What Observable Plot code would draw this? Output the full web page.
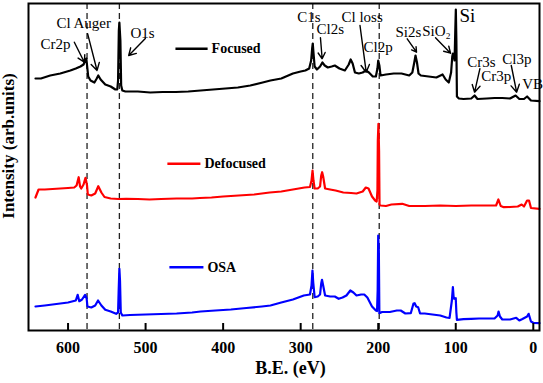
<!DOCTYPE html>
<html>
<head>
<meta charset="utf-8">
<script src="https://cdn.jsdelivr.net/npm/d3@7"></script>
<script src="https://cdn.jsdelivr.net/npm/@observablehq/plot@0.6"></script>
<style>
  html, body { margin: 0; padding: 0; background: #fff; }
  #chart svg, #chart svg text { font-family: "Liberation Serif", "DejaVu Serif", serif !important; }
</style>
</head>
<body>
<div id="chart"></div>
<script>
// ---- Data (binding energy in eV, intensity in arbitrary units, offset per spectrum) ----
const xTicks = [600, 500, 400, 300, 200, 100, 0];
const dashedBE = [575.5, 533.8, 284.4, 198.7];

const focused = [
  [642,252],[635,252],[623,255],[610,257],[597,260],[590,262],[584,264],[580,266],[577.5,271],[576.4,272],
  [574,254],[571,250],[566,248],[563,252],[561,255],[558,251],[552,246],[545,244],[539,241],[536.5,241],
  [535.5,250],[534.5,300],[533.8,308],[532.5,290],[531.5,245],[530,240],[526,239],[510,239],[494,238],[478,238.5],
  [461,238.5],[445,239],[429,240],[413,241],[397,242],[381,243],[365,245],[349,248],[339,250],[325,252],
  [310,257],[300,259],[294,260],[289,262],[286.5,270],[285.2,282],[284.4,287],[283.5,278],[282,264],[279,261],
  [275,264],[272,268],[269,265],[265,263],[260,264],[256,265],[250,262],[243,260],[238,266],[235.5,271],
  [233,267],[230,258],[225,257],[220,258],[216,260],[212,258],[207,254],[203,254],[201,262],[200,270],
  [198.5,265],[197,255],[190,256],[180,257],[170,257],[160,255],[156,258],[153.5,268],[151.9,275],[150,268],
  [148,257],[145,255],[135,254],[125,253],[117,256],[113,251],[109,248],[106,258],[104.5,274],[103.7,277],
  [102.5,275],[101.5,270],[100.6,300],[99.9,321],[99.2,290],[98.5,234],[96,232],[90,231.5],[80,232],[75.7,235],
  [72,231.5],[60,232],[50,232.5],[40,232.5],[30,232],[22.8,235],[18,231.5],[12,231.5],[8,234],[3,230],[-8,229.3]
];

const defocused = [
  [642,133],[638,141],[630,141],[620,141.5],[610,142],[600,142.5],[592,143],[589,145],[586.3,153.3],[584.5,144],
  [583,142],[580,146],[577.5,152.7],[575.5,145],[574.5,136],[570,135],[565,137],[561,144.3],[557,138],[553,133.5],
  [545,132],[535,131.5],[525,131.7],[510,131.5],[495,131],[480,131.5],[460,132],[440,132],[430,132.5],[415,133],
  [400,134],[380,135],[360,136],[340,138],[325,139],[310,141],[295,143],[288,143.5],[286,150],[284.7,160],
  [283.5,150],[282,142],[278,142],[275,144],[273.5,155],[272.3,158.3],[271,154],[268.5,142],[262,141],[255,140],
  [245,138],[235,137.5],[228,137],[220,139],[216,143],[212.5,142],[208,134],[204,130],[202,129],[201,140],
  [200.5,190],[199.7,206.7],[198.9,180],[198.3,126],[197,125],[190,124.5],[183,126],[169,126.7],[160,124.5],[140,124.5],
  [120,125],[100,124.5],[80,125],[60,125],[48,125],[45,131],[42,124.5],[38,123.3],[30,123.5],[20,124],
  [15,126],[12,124],[8,130],[5.5,130],[3,122.5],[-8,121.7]
];

const osa = [
  [642,24],[630,25],[620,26],[610,27],[600,28],[590,30],[587.6,35.7],[585.5,29.3],[582,31],[578,35.7],
  [576,32],[575,24],[570,23],[565,25],[561.3,30],[557,25],[552,20.7],[545,19],[538,16.7],[535.5,18],
  [534.7,40],[533.8,61.7],[533,50],[532,18],[530,15],[520,15.5],[500,16],[480,16.5],[460,17],[440,18],
  [429,19],[410,20],[390,21],[370,22.5],[350,24],[339,25],[325,28],[310,31],[296,35],[288,36],
  [286,45],[284.8,60],[283.8,48],[282,33.3],[278,34],[275,36],[273.5,47],[272.5,50.7],[271,45],[268.5,35],
  [262,34],[256,34],[251,31.7],[246,33],[241,35],[236,40],[232,38],[228,35],[222,36],[218,36],
  [214,33],[208,24],[203,20],[201.5,19.5],[200.7,40],[200,95],[199.2,80],[198.5,17.3],[195,18.5],[185,18.5],
  [176,20],[171,20],[165,17],[158,17.3],[154.5,27],[153,27.3],[151,24],[148.5,23.3],[146,17],[140,17],
  [130,16],[120,15],[112,13],[108,12.7],[105,30],[103.7,43.3],[102.8,34],[102,31.7],[101,32],[100,32.3],
  [99.2,18],[98.5,10.7],[90,11.3],[80,11.7],[70,12],[60,12],[50,12],[46,15],[44.8,19],[43,14],
  [40,11],[30,11],[22,12.7],[18,10],[14,11.5],[8,14],[6,16.7],[3,9],[0,7.7],[-8,7.3]
];

// Legend entries
const legendNames = ["Focused", "Defocused", "OSA"];
const legendColors = ["#000000", "#ff0000", "#0000ff"];
const legendBE1 = [461.5, 471.9, 469.3];
const legendBE2 = [420, 429.3, 425.4];
const legendI = [281.7, 166.7, 63.3];

// Peak annotations
const annLabels = ["Cr2p", "Cl Auger", "O1s", "C1s", "Cl2s", "Cl loss", "Cl2p", "Si2s", "SiO\u2082", "Cr3s", "Cr3p", "Cl3p", "VB"];
const annBE =     [635.5, 615, 519.6, 304.5, 279.6, 247.4, 219, 177.7, 143.2, 85.2, 67.1, 40, 14.2];
const annI =      [286, 307.3, 297, 313.3, 301.7, 313.3, 283.3, 298.3, 299.3, 268.3, 254, 271.7, 246.7];
const siLabel = ["Si"];
const siBE = [95.1];
const siI = [315];

// Arrows: start / end
const arrowBE1 = [591.9, 574.7, 500.3, 274.5, 223.5, 162.6, 126.1, 68.9, 28.4];
const arrowI1 =  [288.3, 296.7, 292, 292.7, 305, 291.7, 292.7, 261.7, 265];
const arrowBE2 = [579, 562.6, 521.8, 272.3, 215.5, 150.6, 106.7, 75.7, 21.5];
const arrowI2 =  [268.3, 260, 275, 271.7, 258.3, 278.3, 277.3, 238.3, 238.3];

// ---- Build ----
const serif = "Liberation Serif, DejaVu Serif, serif";
const idx = (a) => a.map((_, i) => i);

const chart = Plot.plot({
  width: 543,
  height: 383,
  marginLeft: 28,
  marginRight: 4,
  marginTop: 3,
  marginBottom: 53,
  style: { fontFamily: serif, background: "#fff", color: "#000" },
  x: { domain: [651, -8], ticks: xTicks },
  y: { domain: [0, 327], axis: null },
  marks: [
    Plot.ruleX(dashedBE, { stroke: "#222", strokeWidth: 1.3, strokeDasharray: "6,4" }),
    Plot.line(focused, { x: d => d[0], y: d => d[1], stroke: "#000", strokeWidth: 2.2 }),
    Plot.line(defocused, { x: d => d[0], y: d => d[1], stroke: "#ff0000", strokeWidth: 2.2 }),
    Plot.line(osa, { x: d => d[0], y: d => d[1], stroke: "#0000ff", strokeWidth: 2.2 }),
    // legend
    Plot.link(idx(legendNames), { x1: i => legendBE1[i], x2: i => legendBE2[i], y1: i => legendI[i], y2: i => legendI[i], stroke: i => legendColors[i], strokeWidth: 2.5 }),
    Plot.text(idx(legendNames), { x: i => legendBE2[i], y: i => legendI[i], text: i => legendNames[i], dx: 4, textAnchor: "start", fontSize: 14, fontWeight: "bold", fill: "#000" }),
    // annotations
    Plot.text(idx(annLabels), { x: i => annBE[i], y: i => annI[i], text: i => annLabels[i], textAnchor: "start", fontSize: 15, fill: "#000" }),
    Plot.text(idx(siLabel), { x: i => siBE[i], y: i => siI[i], text: i => siLabel[i], textAnchor: "start", fontSize: 19, fill: "#000" }),
    Plot.arrow(idx(arrowBE1), { x1: i => arrowBE1[i], y1: i => arrowI1[i], x2: i => arrowBE2[i], y2: i => arrowI2[i], stroke: "#000", strokeWidth: 1.4, headLength: 9 }),
    Plot.frame({ stroke: "#000", strokeWidth: 2 }),
    Plot.axisX({ ticks: xTicks, tickSize: -7, tickPadding: 18, tickFormat: d => String(d), fontSize: 16, fontWeight: "bold", label: null, strokeWidth: 2 }),
    Plot.text(["B.E. (eV)"], { frameAnchor: "bottom", textAnchor: "middle", lineAnchor: "middle", dx: 6.5, dy: 38, fontSize: 18, fontWeight: "bold", fill: "#000" }),
    Plot.text(["Intensity (arb.units)"], { frameAnchor: "left", textAnchor: "middle", lineAnchor: "middle", rotate: -90, dx: -19.5, dy: -21, fontSize: 17, fontWeight: "bold", fill: "#000" })
  ]
});
document.getElementById("chart").appendChild(chart);
</script>
</body>
</html>
